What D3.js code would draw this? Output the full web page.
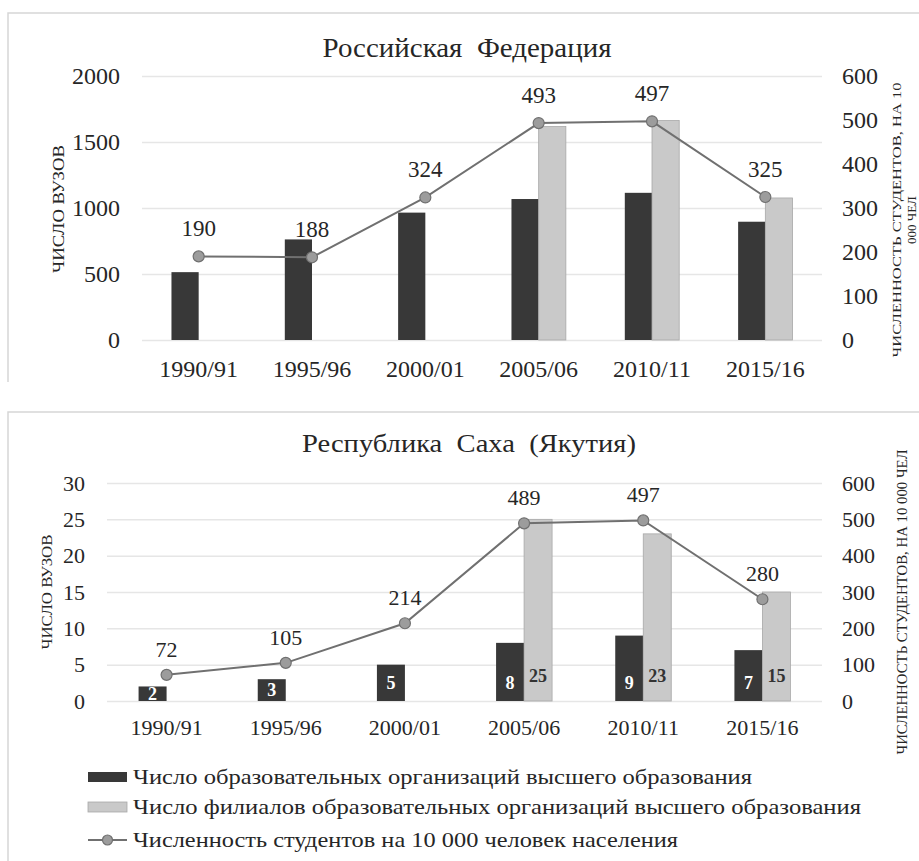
<!DOCTYPE html>
<html>
<head>
<meta charset="utf-8">
<script src="https://cdn.jsdelivr.net/npm/d3@7"></script>
<style>
  html, body { margin: 0; padding: 0; background: #fff; }
  svg { display: block; }
</style>
</head>
<body>
<svg id="chart" width="919" height="861"></svg>
<script>
// ---------- data ----------
const categories = ["1990/91", "1995/96", "2000/01", "2005/06", "2010/11", "2015/16"];

const rfTitle = "Российская  Федерация";
const rfUniversities = [514, 762, 965, 1068, 1115, 896];
const rfBranches = [null, null, null, 1617, 1663, 1076];
const rfStudents = [190, 188, 324, 493, 497, 325];
const rfLeftTicks = [0, 500, 1000, 1500, 2000];

const sakhaTitle = "Республика  Саха  (Якутия)";
const sakhaUniversities = [2, 3, 5, 8, 9, 7];
const sakhaBranches = [null, null, null, 25, 23, 15];
const sakhaStudents = [72, 105, 214, 489, 497, 280];
const sakhaLeftTicks = [0, 5, 10, 15, 20, 25, 30];

const rightTicks = [0, 100, 200, 300, 400, 500, 600];

const leftAxisTitle = "ЧИСЛО ВУЗОВ";
const rfRightTitleLines = ["ЧИСЛЕННОСТЬ СТУДЕНТОВ, НА 10", "000 ЧЕЛ"];
const sakhaRightTitleLines = ["ЧИСЛЕННОСТЬ СТУДЕНТОВ, НА 10 000 ЧЕЛ"];

const legendLabels = [
  "Число образовательных организаций высшего образования",
  "Число филиалов образовательных организаций высшего образования",
  "Численность студентов на 10 000 человек населения"
];

// ---------- style ----------
const FONT = "'Liberation Serif'";
const C = {
  dark: "#383838",
  light: "#c9c9c9",
  lightStroke: "#a8a8a8",
  line: "#707070",
  marker: "#9c9c9c",
  grid: "#e6e6e6",
  frame: "#d6d6d6",
  text: "#262626"
};

const svg = d3.select("#chart");

function styleText(sel, size, weight) {
  return sel.attr("font-family", null)
    .style("font-family", FONT)
    .style("font-weight", weight || 400)
    .style("font-size", size + "px")
    .style("fill", C.text);
}
function fitText(sel, w) {
  if (w) sel.attr("textLength", w).attr("lengthAdjust", "spacingAndGlyphs");
  return sel;
}

function drawPanel(cfg) {
  const g = svg.append("g");
  g.append("path")
    .attr("d", `M${cfg.frame.x},${cfg.frame.y2} V${cfg.frame.y} H${cfg.frame.x2}`)
    .attr("fill", "none").attr("stroke", C.frame).attr("stroke-width", 1.5);

  const x = d3.scaleBand().domain(categories).range([cfg.x0, cfg.x1]);
  const yL = d3.scaleLinear().domain(cfg.leftDomain).range([cfg.y0, cfg.y1]);
  const yR = d3.scaleLinear().domain([0, 600]).range([cfg.y0, cfg.y1]);
  const bw = x.bandwidth() * cfg.barFrac;
  const fmt = d3.format("d");

  const grid = g.append("g").attr("transform", `translate(${cfg.x0},0)`)
    .call(d3.axisLeft(yL).tickValues(cfg.leftTicks).tickSize(-(cfg.x1 - cfg.x0)).tickFormat(""));
  grid.select(".domain").remove();
  grid.selectAll("line").attr("stroke", C.grid).attr("stroke-width", 1.5);

  const la = g.append("g").attr("transform", `translate(${cfg.x0},0)`)
    .call(d3.axisLeft(yL).tickValues(cfg.leftTicks).tickFormat(fmt).tickSize(0).tickPadding(cfg.x0 - cfg.leftLabelX));
  la.attr("font-family", null).attr("font-size", null);
  la.select(".domain").remove();
  styleText(la.selectAll("text"), cfg.tickFont);

  const ra = g.append("g").attr("transform", `translate(${cfg.x1},0)`)
    .call(d3.axisRight(yR).tickValues(rightTicks).tickFormat(fmt).tickSize(0).tickPadding(cfg.rightLabelX - cfg.x1));
  ra.attr("font-family", null).attr("font-size", null);
  ra.select(".domain").remove();
  styleText(ra.selectAll("text"), cfg.tickFont);

  const xa = g.append("g").attr("transform", `translate(0,${cfg.y0})`)
    .call(d3.axisBottom(x).tickSize(0));
  xa.attr("font-family", null).attr("font-size", null);
  xa.select(".domain").remove();
  styleText(xa.selectAll("text").attr("dy", null).attr("y", cfg.xLabelBaseline - cfg.y0), cfg.tickFont);

  g.append("g").selectAll("rect").data(cfg.dark).join("rect")
    .attr("x", (d, i) => x(categories[i]) + x.bandwidth() / 2 - bw)
    .attr("y", d => yL(d))
    .attr("width", bw)
    .attr("height", d => yL(0) - yL(d))
    .attr("fill", C.dark);

  const lightData = cfg.light.map((d, i) => ({ d, i })).filter(o => o.d != null);
  g.append("g").selectAll("rect").data(lightData).join("rect")
    .attr("x", o => x(categories[o.i]) + x.bandwidth() / 2)
    .attr("y", o => yL(o.d))
    .attr("width", bw)
    .attr("height", o => yL(0) - yL(o.d))
    .attr("fill", C.light).attr("stroke", C.lightStroke).attr("stroke-width", 0.8);

  if (cfg.barLabels) {
    styleText(g.append("g").selectAll("text").data(cfg.dark).join("text")
      .attr("x", (d, i) => x(categories[i]) + x.bandwidth() / 2 - bw / 2)
      .attr("y", d => Math.max((yL(d) + yL(0)) / 2, yL(0) - 18))
      .attr("dy", "0.35em")
      .attr("text-anchor", "middle")
      .text(d => d), cfg.barLabelFont, 700)
      .style("fill", "#ffffff");
    styleText(g.append("g").selectAll("text").data(lightData).join("text")
      .attr("x", o => x(categories[o.i]) + x.bandwidth() / 2 + bw / 2)
      .attr("y", o => yL(0) - 25)
      .attr("dy", "0.35em")
      .attr("text-anchor", "middle")
      .text(o => o.d), cfg.barLabelFont, 700)
      .style("fill", "#333333");
  }

  const line = d3.line().x((d, i) => x(categories[i]) + x.bandwidth() / 2).y(d => yR(d));
  g.append("path").datum(cfg.line).attr("d", line)
    .attr("fill", "none").attr("stroke", C.line).attr("stroke-width", 2);
  g.append("g").selectAll("circle").data(cfg.line).join("circle")
    .attr("cx", (d, i) => x(categories[i]) + x.bandwidth() / 2)
    .attr("cy", d => yR(d))
    .attr("r", 5.5)
    .attr("fill", C.marker).attr("stroke", C.line).attr("stroke-width", 1.2);
  styleText(g.append("g").selectAll("text").data(cfg.line).join("text")
    .attr("x", (d, i) => x(categories[i]) + x.bandwidth() / 2)
    .attr("y", d => yR(d) - cfg.lineLabelGap)
    .attr("text-anchor", "middle")
    .text(d => d), cfg.lineLabelFont);

  fitText(styleText(g.append("text")
    .attr("x", cfg.titleX).attr("y", cfg.titleY)
    .attr("text-anchor", "middle")
    .style("white-space", "pre")
    .text(cfg.title), cfg.titleFont), cfg.titleWidth);

  fitText(styleText(g.append("text")
    .attr("transform", `translate(${cfg.leftTitleX},${cfg.leftTitleY}) rotate(-90)`)
    .attr("text-anchor", "middle")
    .attr("dy", "0.35em")
    .text(leftAxisTitle), cfg.axisTitleFont), cfg.leftTitleWidth);

  cfg.rightTitleLines.forEach((t, k) => {
    fitText(styleText(g.append("text")
      .attr("transform", `translate(${cfg.rightTitleX + k * cfg.rightTitleLineGap},${cfg.rightTitleY}) rotate(-90)`)
      .attr("text-anchor", "middle")
      .attr("dy", "0.35em")
      .text(t), cfg.rightTitleFont), k === 0 ? cfg.rightTitleWidth : null);
  });
}

drawPanel({
  frame: { x: 8, y: 13, x2: 919, y2: 382 },
  x0: 142, x1: 822, y0: 340, y1: 76,
  leftDomain: [0, 2000], leftTicks: rfLeftTicks,
  leftLabelX: 120, rightLabelX: 842,
  tickFont: 24, xLabelBaseline: 377,
  barFrac: 0.24,
  dark: rfUniversities, light: rfBranches, line: rfStudents,
  barLabels: false,
  lineLabelGap: 20, lineLabelFont: 23,
  title: rfTitle, titleX: 467, titleY: 57, titleFont: 27, titleWidth: 289,
  leftTitleX: 58, leftTitleY: 209, axisTitleFont: 16, leftTitleWidth: 128,
  rightTitleLines: rfRightTitleLines, rightTitleX: 896, rightTitleY: 220, rightTitleLineGap: 15,
  rightTitleFont: 13, rightTitleWidth: 275
});

drawPanel({
  frame: { x: 8, y: 412, x2: 919, y2: 861 },
  x0: 107, x1: 822, y0: 701, y1: 483,
  leftDomain: [0, 30], leftTicks: sakhaLeftTicks,
  leftLabelX: 85, rightLabelX: 842,
  tickFont: 22, xLabelBaseline: 735,
  barFrac: 0.235,
  dark: sakhaUniversities, light: sakhaBranches, line: sakhaStudents,
  barLabels: true, barLabelFont: 18,
  lineLabelGap: 18, lineLabelFont: 22,
  title: sakhaTitle, titleX: 469, titleY: 452, titleFont: 25, titleWidth: 334,
  leftTitleX: 47, leftTitleY: 592, axisTitleFont: 15, leftTitleWidth: 115,
  rightTitleLines: sakhaRightTitleLines, rightTitleX: 902, rightTitleY: 602, rightTitleLineGap: 15,
  rightTitleFont: 14, rightTitleWidth: 305
});

// ---------- legend ----------
const legend = svg.append("g");
const legendRows = [777, 807, 840];
const legendWidths = [619, 728, 545];
legend.selectAll("rect.sw").data([C.dark, C.light]).join("rect")
  .attr("class", "sw")
  .attr("x", 88).attr("y", (d, i) => legendRows[i] - 5)
  .attr("width", 39).attr("height", 10)
  .attr("fill", d => d)
  .attr("stroke", (d, i) => i === 1 ? C.lightStroke : "none").attr("stroke-width", 0.8);
legend.append("line").attr("x1", 88).attr("x2", 127)
  .attr("y1", legendRows[2]).attr("y2", legendRows[2])
  .attr("stroke", C.line).attr("stroke-width", 2);
legend.append("circle").attr("cx", 107.5).attr("cy", legendRows[2]).attr("r", 5)
  .attr("fill", C.marker).attr("stroke", C.line).attr("stroke-width", 1.2);
styleText(legend.selectAll("text").data(legendLabels).join("text")
  .attr("x", 133).attr("y", (d, i) => legendRows[i])
  .attr("dy", "0.33em")
  .attr("textLength", (d, i) => legendWidths[i])
  .attr("lengthAdjust", "spacingAndGlyphs")
  .text(d => d), 21);
</script>
</body>
</html>
